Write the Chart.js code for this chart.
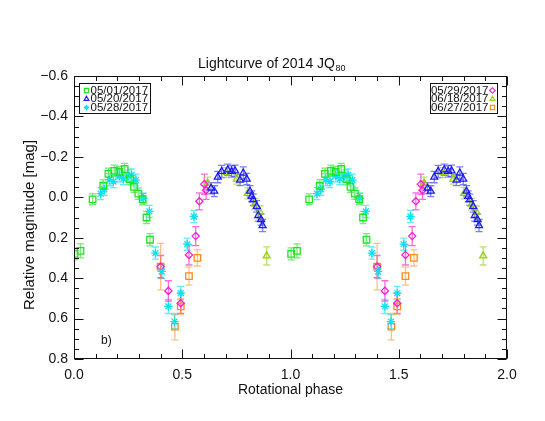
<!DOCTYPE html>
<html><head><meta charset="utf-8">
<script src="https://cdn.jsdelivr.net/npm/chart.js@4/dist/chart.umd.min.js"></script>
<style>html,body{margin:0;padding:0;background:#fff;overflow:hidden}#wrap{width:545px;height:421px}</style>
</head><body><div id="wrap"><canvas id="c" width="545" height="421"></canvas></div>
<script>
// ---- tick labels ----
const xTickValues = [0.0, 0.5, 1.0, 1.5, 2.0];
const yTickValues = [-0.6, -0.4, -0.2, 0.0, 0.2, 0.4, 0.6, 0.8];
const seriesNames = ['05/01/2017', '05/20/2017', '05/28/2017', '05/29/2017', '06/18/2017', '06/27/2017'];

// ---- 05/01/2017 ----
const phase0501 = [0.003,0.030,0.086,0.135,0.159,0.186,0.209,0.234,0.259,0.277,0.297,0.317,0.335,0.351,
                   1.003,1.030,1.086,1.135,1.159,1.186,1.209,1.234,1.259,1.277,1.297,1.317,1.335,1.351];
const mag0501   = [0.280,0.265,0.010,-0.057,-0.116,-0.131,-0.125,-0.140,-0.090,-0.052,-0.018,0.009,0.100,0.210,
                   0.280,0.265,0.010,-0.057,-0.116,-0.131,-0.125,-0.140,-0.090,-0.052,-0.018,0.009,0.100,0.210];
const err0501   = [0.030,0.035,0.027,0.030,0.028,0.028,0.028,0.028,0.028,0.028,0.028,0.028,0.030,0.030,
                   0.030,0.035,0.027,0.030,0.028,0.028,0.028,0.028,0.028,0.028,0.028,0.028,0.030,0.030];
// ---- 05/20/2017 ----
const phase0520 = [0.633,0.648,0.664,0.682,0.710,0.728,0.744,0.767,0.782,0.798,0.813,0.821,0.828,0.844,0.851,0.864,0.871,
                   1.633,1.648,1.664,1.682,1.710,1.728,1.744,1.767,1.782,1.798,1.813,1.821,1.828,1.844,1.851,1.864,1.871];
const mag0520   = [-0.045,-0.030,-0.100,-0.128,-0.136,-0.128,-0.131,-0.085,-0.120,-0.090,-0.030,-0.005,0.012,0.045,0.090,0.110,0.140,
                   -0.045,-0.030,-0.100,-0.128,-0.136,-0.128,-0.131,-0.085,-0.120,-0.090,-0.030,-0.005,0.012,0.045,0.090,0.110,0.140];
const err0520   = [0.028,0.027,0.028,0.030,0.028,0.028,0.028,0.027,0.030,0.028,0.028,0.027,0.028,0.028,0.028,0.028,0.030,
                   0.028,0.027,0.028,0.030,0.028,0.028,0.028,0.027,0.030,0.028,0.028,0.027,0.028,0.028,0.028,0.028,0.030];
// ---- 05/28/2017 ----
const phase0528 = [0.123,0.140,0.163,0.182,0.209,0.228,0.250,0.266,0.286,0.320,0.348,0.376,0.405,0.436,0.464,0.493,0.523,0.554,
                   1.123,1.140,1.163,1.182,1.209,1.228,1.250,1.266,1.286,1.320,1.348,1.376,1.405,1.436,1.464,1.493,1.523,1.554];
const mag0528   = [-0.018,-0.040,-0.087,-0.078,-0.105,-0.092,-0.106,-0.110,-0.085,0.005,0.070,0.276,0.367,0.540,0.615,0.474,0.232,0.095,
                   -0.018,-0.040,-0.087,-0.078,-0.105,-0.092,-0.106,-0.110,-0.085,0.005,0.070,0.276,0.367,0.540,0.615,0.474,0.232,0.095];
const err0528   = [0.030,0.030,0.030,0.030,0.030,0.030,0.030,0.030,0.030,0.025,0.030,0.030,0.035,0.035,0.035,0.033,0.030,0.030,
                   0.030,0.030,0.030,0.030,0.030,0.030,0.030,0.030,0.030,0.025,0.030,0.030,0.035,0.035,0.035,0.033,0.030,0.030];
// ---- 05/29/2017 ----
const phase0529 = [0.400,0.436,0.493,0.531,0.562,0.579,0.602,0.610,
                   1.400,1.436,1.493,1.531,1.562,1.579,1.602,1.610];
const mag0529   = [0.343,0.463,0.524,0.285,0.192,0.020,-0.065,-0.035,
                   0.343,0.463,0.524,0.285,0.192,0.020,-0.065,-0.035];
const err0529   = [0.055,0.050,0.050,0.050,0.047,0.042,0.050,0.045,
                   0.055,0.050,0.050,0.050,0.047,0.042,0.050,0.045];
// ---- 06/18/2017 ----
const phase0618 = [0.617,0.703,0.752,0.802,0.836,0.859,0.890,
                   1.617,1.703,1.752,1.802,1.836,1.859,1.890];
const mag0618   = [-0.070,-0.122,-0.090,-0.020,0.034,0.073,0.290,
                   -0.070,-0.122,-0.090,-0.020,0.034,0.073,0.290];
const err0618   = [0.030,0.025,0.025,0.028,0.028,0.030,0.045,
                   0.030,0.025,0.025,0.028,0.028,0.030,0.045];
// ---- 06/27/2017 ----
const phase0627 = [0.400,0.466,0.493,0.531,0.570,
                   1.400,1.466,1.493,1.531,1.570];
const mag0627   = [0.343,0.640,0.540,0.390,0.300,
                   0.343,0.640,0.540,0.390,0.300];
const err0627   = [0.115,0.065,0.040,0.045,0.040,
                   0.115,0.065,0.040,0.045,0.040];

const FONT = '"Liberation Sans", Arial, Helvetica, sans-serif';
const series = [
  {name:seriesNames[0], ph:phase0501, mg:mag0501, er:err0501, color:'#1ee61e', errColor:'rgba(30,220,30,0.6)', style:'rect', radius:4.6, lr:3.0},
  {name:seriesNames[1], ph:phase0520, mg:mag0520, er:err0520, color:'#1c1cf0', errColor:'rgba(40,40,235,0.6)', style:'triangle', radius:4.0, lr:2.8},
  {name:seriesNames[2], ph:phase0528, mg:mag0528, er:err0528, color:'#10e0f0', errColor:'rgba(20,225,240,0.65)', style:'star', radius:4.2, lr:2.8},
  {name:seriesNames[3], ph:phase0529, mg:mag0529, er:err0529, color:'#f020d0', errColor:'rgba(240,30,200,0.65)', style:'rectRot', radius:3.6, lr:2.8},
  {name:seriesNames[4], ph:phase0618, mg:mag0618, er:err0618, color:'#9acd10', errColor:'rgba(150,200,20,0.6)', style:'triangle', radius:4.0, lr:2.8},
  {name:seriesNames[5], ph:phase0627, mg:mag0627, er:err0627, color:'#ff8a1a', errColor:'rgba(255,140,30,0.55)', style:'rect', radius:4.6, lr:3.0}
];

const datasets = series.map(s => ({
  label: s.name,
  data: s.ph.map((p, i) => ({x: p, y: s.mg[i]})),
  errs: s.er,
  errColor: s.errColor,
  showLine: false,
  pointStyle: s.style,
  pointRadius: s.radius,
  pointHoverRadius: s.radius,
  pointBorderWidth: 1.3,
  borderColor: s.color,
  backgroundColor: 'rgba(0,0,0,0)',
  pointBackgroundColor: 'rgba(0,0,0,0)',
  clip: 0
}));

function fmt(v){ const r = Math.round(v*10)/10; return (r < 0 ? '\u2212' : '') + Math.abs(r).toFixed(1); }

const errorBars = {
  id: 'errorBars',
  beforeDatasetsDraw(chart){
    const ctx = chart.ctx, ys = chart.scales.y, a = chart.chartArea;
    ctx.save();
    ctx.beginPath(); ctx.rect(a.left, a.top, a.right - a.left, a.bottom - a.top); ctx.clip();
    chart.data.datasets.forEach((ds, i) => {
      const meta = chart.getDatasetMeta(i);
      ctx.strokeStyle = ds.errColor; ctx.lineWidth = 1.3;
      meta.data.forEach((pt, j) => {
        const m = ds.data[j].y, e = ds.errs[j];
        const y1 = ys.getPixelForValue(m - e), y2 = ys.getPixelForValue(m + e);
        const x = pt.x;
        ctx.beginPath();
        ctx.moveTo(x, y1); ctx.lineTo(x, y2);
        ctx.moveTo(x - 3.5, y1); ctx.lineTo(x + 3.5, y1);
        ctx.moveTo(x - 3.5, y2); ctx.lineTo(x + 3.5, y2);
        ctx.stroke();
      });
    });
    ctx.restore();
  }
};

function drawMarker(ctx, s, x, y){
  if (Chart.helpers && Chart.helpers.drawPoint) {
    ctx.save();
    ctx.strokeStyle = s.color; ctx.fillStyle = 'rgba(0,0,0,0)'; ctx.lineWidth = 1.1;
    Chart.helpers.drawPoint(ctx, {pointStyle: s.style, radius: s.lr, borderWidth: 1.1, rotation: 0}, x, y);
    ctx.restore();
  }
}

const frameAndText = {
  id: 'frameAndText',
  afterDraw(chart){
    const ctx = chart.ctx, xs = chart.scales.x, ys = chart.scales.y, a = chart.chartArea;
    const L = Math.round(a.left) + 0.5, R = Math.round(a.right) - 0.5, T = Math.round(a.top) + 0.5, B = Math.round(a.bottom) - 0.5;
    ctx.save();
    ctx.strokeStyle = '#111'; ctx.lineWidth = 1;
    ctx.strokeRect(L, T, R - L, B - T);
    ctx.beginPath();
    for (let k = 0; k <= 20; k++) {
      const v = k / 10;
      const px = Math.round(xs.getPixelForValue(v)) + 0.5;
      const len = (k % 5 === 0) ? 9 : 4.5;
      ctx.moveTo(px, B); ctx.lineTo(px, B - len);
      ctx.moveTo(px, T); ctx.lineTo(px, T + len);
    }
    for (let k = 0; k <= 28; k++) {
      const v = -0.6 + k * 0.05;
      const py = Math.round(ys.getPixelForValue(v)) + 0.5;
      const len = (k % 4 === 0) ? 9 : 4.5;
      ctx.moveTo(L, py); ctx.lineTo(L + len, py);
      ctx.moveTo(R, py); ctx.lineTo(R - len, py);
    }
    ctx.stroke();

    // Title with subscript
    ctx.fillStyle = '#111';
    ctx.textBaseline = 'middle'; ctx.textAlign = 'left';
    ctx.font = '14px ' + FONT;
    const t1 = 'Lightcurve of 2014 JQ';
    const tx = 198;
    ctx.fillText(t1, tx, 64);
    const w1 = ctx.measureText(t1).width;
    ctx.font = '9px ' + FONT;
    ctx.fillText('80', tx + w1 + 0.5, 68.5);

    // axis titles
    ctx.font = '14px ' + FONT; ctx.textAlign = 'center';
    ctx.fillText('Rotational phase', (a.left + a.right) / 2, 390);
    ctx.save();
    ctx.translate(30, 225); ctx.rotate(-Math.PI / 2);
    ctx.font = '15px ' + FONT;
    ctx.fillText('Relative magnitude [mag]', 0, 0);
    ctx.restore();

    // panel label
    ctx.font = '12px ' + FONT; ctx.textAlign = 'left';
    ctx.fillText('b)', 101, 341);

    // legends
    ctx.fillStyle = '#fff';
    ctx.fillRect(79.5, 83.5, 71, 30);
    ctx.fillRect(430.5, 83.5, 67, 30);
    ctx.strokeStyle = '#111';
    ctx.strokeRect(79.5, 83.5, 71, 30);
    ctx.strokeRect(430.5, 83.5, 67, 30);
    const rows = [90.5, 99, 107.5];
    for (let i = 0; i < 3; i++) {
      drawMarker(ctx, series[i], 86.5, rows[i]);
      ctx.fillStyle = '#111'; ctx.textAlign = 'left'; ctx.textBaseline = 'middle'; ctx.font = '11.5px ' + FONT;
      ctx.fillText(series[i].name, 90.5, rows[i]);
    }
    for (let i = 0; i < 3; i++) {
      const s = series[i + 3];
      drawMarker(ctx, s, 492.5, rows[i]);
      ctx.fillStyle = '#111'; ctx.textAlign = 'right'; ctx.textBaseline = 'middle'; ctx.font = '11.5px ' + FONT;
      ctx.fillText(s.name, 488.5, rows[i]);
    }
    ctx.restore();
  }
};

new Chart(document.getElementById('c'), {
  type: 'scatter',
  data: {datasets},
  options: {
    responsive: false,
    animation: false,
    devicePixelRatio: 1,
    layout: {padding: {left: 0, right: 38, top: 76, bottom: 0}},
    plugins: {legend: {display: false}, title: {display: false}, tooltip: {enabled: false}},
    events: [],
    scales: {
      x: {
        type: 'linear', min: 0, max: 2,
        afterBuildTicks: sc => { sc.ticks = xTickValues.map(v => ({value: v})); },
        ticks: {callback: v => fmt(v), color: '#111', font: {family: FONT, size: 14}, padding: 8, maxRotation: 0, autoSkip: false},
        grid: {display: false, drawTicks: false},
        border: {display: false},
        afterFit: sc => { sc.height = 62; }
      },
      y: {
        type: 'linear', min: -0.6, max: 0.8, reverse: true,
        afterBuildTicks: sc => { sc.ticks = yTickValues.map(v => ({value: v})); },
        ticks: {callback: v => fmt(v), color: '#111', font: {family: FONT, size: 14}, padding: 6, autoSkip: false},
        grid: {display: false, drawTicks: false},
        border: {display: false},
        afterFit: sc => { sc.width = 74; }
      }
    }
  },
  plugins: [errorBars, frameAndText]
});
</script>
</body></html>
